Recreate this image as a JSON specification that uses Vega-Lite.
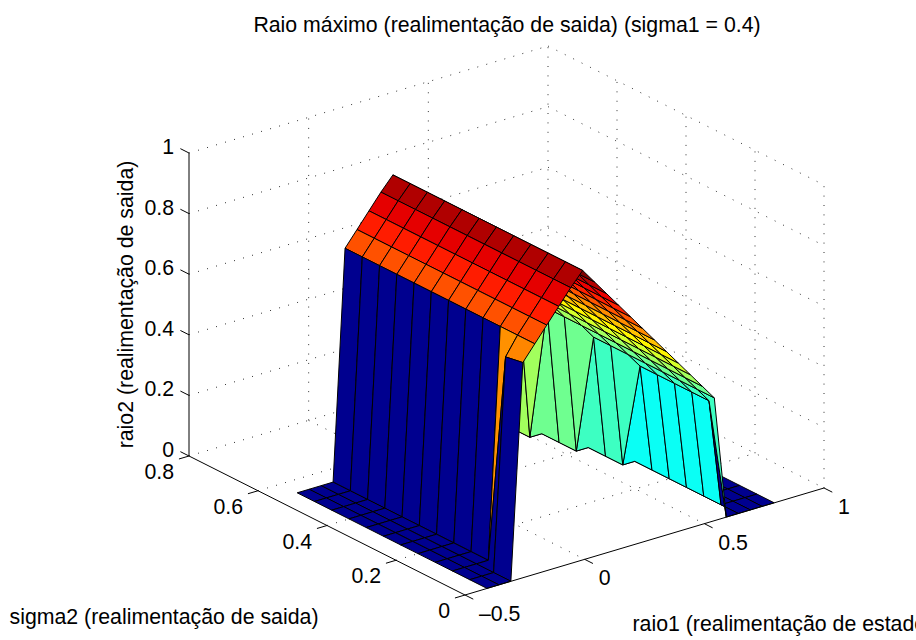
{"$schema":"https://vega.github.io/schema/vega-lite/v6.json","width":916,"height":640,"padding":0,"autosize":{"type":"none"},"background":"white","config":{"view":{"stroke":null},"font":"Liberation Sans"},
"title":{"text":"Raio máximo (realimentação de saida) (sigma1 = 0.4)","font":"Liberation Sans","fontSize":21.3,"fontWeight":"normal","anchor":"middle","dx":49,"dy":36,"offset":0,"color":"black"},
"datasets":{
"grade":[
{"r":[-0.5,1],"s":[0.8,0.8],"z":[0,0]},{"r":[-0.5,1],"s":[0.8,0.8],"z":[0.2,0.2]},{"r":[-0.5,1],"s":[0.8,0.8],"z":[0.4,0.4]},{"r":[-0.5,1],"s":[0.8,0.8],"z":[0.6,0.6]},{"r":[-0.5,1],"s":[0.8,0.8],"z":[0.8,0.8]},{"r":[-0.5,1],"s":[0.8,0.8],"z":[1,1]},
{"r":[1,1],"s":[0.8,0],"z":[0,0]},{"r":[1,1],"s":[0.8,0],"z":[0.2,0.2]},{"r":[1,1],"s":[0.8,0],"z":[0.4,0.4]},{"r":[1,1],"s":[0.8,0],"z":[0.6,0.6]},{"r":[1,1],"s":[0.8,0],"z":[0.8,0.8]},{"r":[1,1],"s":[0.8,0],"z":[1,1]},
{"r":[0,0],"s":[0.8,0.8],"z":[0,1]},{"r":[0.5,0.5],"s":[0.8,0.8],"z":[0,1]},{"r":[1,1],"s":[0.8,0.8],"z":[0,1]},
{"r":[1,1],"s":[0,0],"z":[0,1]},{"r":[1,1],"s":[0.2,0.2],"z":[0,1]},{"r":[1,1],"s":[0.4,0.4],"z":[0,1]},{"r":[1,1],"s":[0.6,0.6],"z":[0,1]},
{"r":[0,0],"s":[0,0.8],"z":[0,0]},{"r":[0.5,0.5],"s":[0,0.8],"z":[0,0]},
{"r":[-0.5,1],"s":[0.2,0.2],"z":[0,0]},{"r":[-0.5,1],"s":[0.4,0.4],"z":[0,0]},{"r":[-0.5,1],"s":[0.6,0.6],"z":[0,0]}],
"eixos":[
{"r":[-0.5,-0.5],"s":[0.8,0.8],"z":[0,1]},{"r":[-0.5,-0.5],"s":[0,0.8],"z":[0,0]},{"r":[-0.5,1],"s":[0,0],"z":[0,0]},
{"r":[-0.5,-0.5],"s":[0.8,0.825],"z":[0,0]},{"r":[-0.5,-0.5],"s":[0.8,0.825],"z":[0.2,0.2]},{"r":[-0.5,-0.5],"s":[0.8,0.825],"z":[0.4,0.4]},{"r":[-0.5,-0.5],"s":[0.8,0.825],"z":[0.6,0.6]},{"r":[-0.5,-0.5],"s":[0.8,0.825],"z":[0.8,0.8]},{"r":[-0.5,-0.5],"s":[0.8,0.825],"z":[1,1]},
{"r":[-0.5,-0.542],"s":[0,0],"z":[0,0]},{"r":[-0.5,-0.542],"s":[0.2,0.2],"z":[0,0]},{"r":[-0.5,-0.542],"s":[0.4,0.4],"z":[0,0]},{"r":[-0.5,-0.542],"s":[0.6,0.6],"z":[0,0]},{"r":[-0.5,-0.542],"s":[0.8,0.8],"z":[0,0]},
{"r":[-0.5,-0.5],"s":[0,-0.024],"z":[0,0]},{"r":[0,0],"s":[0,-0.024],"z":[0,0]},{"r":[0.5,0.5],"s":[0,-0.024],"z":[0,0]},{"r":[1,1],"s":[0,-0.024],"z":[0,0]}],
"celas":[
{"r":0.75,"s":0.5,"z":[0,0,0,0]},{"r":0.75,"s":0.45,"z":[0,0,0,0]},{"r":0.75,"s":0.4,"z":[0,0,0,0]},{"r":0.75,"s":0.35,"z":[0,0,0,0]},{"r":0.75,"s":0.3,"z":[0,0,0,0]},{"r":0.75,"s":0.25,"z":[0,0,0,0]},{"r":0.75,"s":0.2,"z":[0,0,0,0]},{"r":0.75,"s":0.15,"z":[0,0,0,0]},{"r":0.75,"s":0.1,"z":[0,0,0,0]},{"r":0.75,"s":0.05,"z":[0,0,0,0]},{"r":0.75,"s":0,"z":[0,0,0,0]},
{"r":0.7,"s":0.5,"z":[0,0,0,0]},{"r":0.7,"s":0.45,"z":[0,0,0,0]},{"r":0.7,"s":0.4,"z":[0,0,0,0]},{"r":0.7,"s":0.35,"z":[0,0,0,0]},{"r":0.7,"s":0.3,"z":[0,0,0,0]},{"r":0.7,"s":0.25,"z":[0,0,0,0]},{"r":0.7,"s":0.2,"z":[0,0,0,0]},{"r":0.7,"s":0.15,"z":[0,0,0,0]},{"r":0.7,"s":0.1,"z":[0,0,0,0]},{"r":0.7,"s":0.05,"z":[0,0,0,0]},{"r":0.7,"s":0,"z":[0,0,0,0]},
{"r":0.65,"s":0.5,"z":[0,0,0,0]},{"r":0.65,"s":0.45,"z":[0,0,0,0]},{"r":0.65,"s":0.4,"z":[0,0,0,0]},{"r":0.65,"s":0.35,"z":[0,0,0,0]},{"r":0.65,"s":0.3,"z":[0,0,0,0]},{"r":0.65,"s":0.25,"z":[0,0,0,0]},{"r":0.65,"s":0.2,"z":[0,0,0,0]},{"r":0.65,"s":0.15,"z":[0,0,0,0]},{"r":0.65,"s":0.1,"z":[0,0,0,0]},{"r":0.65,"s":0.05,"z":[0,0,0,0]},{"r":0.65,"s":0,"z":[0,0,0,0]},
{"r":0.6,"s":0.5,"z":[0,0,0,0]},{"r":0.6,"s":0.45,"z":[0,0,0,0]},{"r":0.6,"s":0.4,"z":[0,0,0,0]},{"r":0.6,"s":0.35,"z":[0,0,0,0]},{"r":0.6,"s":0.3,"z":[0,0,0,0]},{"r":0.6,"s":0.25,"z":[0.355,0,0,0]},{"r":0.6,"s":0.2,"z":[0.355,0,0,0.355]},{"r":0.6,"s":0.15,"z":[0.355,0,0,0.355]},{"r":0.6,"s":0.1,"z":[0.355,0,0,0.355]},{"r":0.6,"s":0.05,"z":[0.355,0,0,0.355]},{"r":0.6,"s":0,"z":[0,0,0,0.355]},
{"r":0.55,"s":0.5,"z":[0,0,0,0]},{"r":0.55,"s":0.45,"z":[0,0,0,0]},{"r":0.55,"s":0.4,"z":[0,0,0,0]},{"r":0.55,"s":0.35,"z":[0.405,0,0,0]},{"r":0.55,"s":0.3,"z":[0.405,0,0,0.405]},{"r":0.55,"s":0.25,"z":[0.405,0.355,0,0.405]},{"r":0.55,"s":0.2,"z":[0.405,0.355,0.355,0.405]},{"r":0.55,"s":0.15,"z":[0.405,0.355,0.355,0.405]},{"r":0.55,"s":0.1,"z":[0.405,0.355,0.355,0.405]},{"r":0.55,"s":0.05,"z":[0.405,0.355,0.355,0.405]},{"r":0.55,"s":0,"z":[0.405,0,0.355,0.405]},
{"r":0.5,"s":0.5,"z":[0,0,0,0]},{"r":0.5,"s":0.45,"z":[0.455,0,0,0]},{"r":0.5,"s":0.4,"z":[0.455,0,0,0.455]},{"r":0.5,"s":0.35,"z":[0.455,0.405,0,0.455]},{"r":0.5,"s":0.3,"z":[0.455,0.405,0.405,0.455]},{"r":0.5,"s":0.25,"z":[0.455,0.405,0.405,0.455]},{"r":0.5,"s":0.2,"z":[0.455,0.405,0.405,0.455]},{"r":0.5,"s":0.15,"z":[0.455,0.405,0.405,0.455]},{"r":0.5,"s":0.1,"z":[0.455,0.405,0.405,0.455]},{"r":0.5,"s":0.05,"z":[0.455,0.405,0.405,0.455]},{"r":0.5,"s":0,"z":[0.455,0.405,0.405,0.455]},
{"r":0.45,"s":0.5,"z":[0.505,0,0,0.505]},{"r":0.45,"s":0.45,"z":[0.505,0.455,0,0.505]},{"r":0.45,"s":0.4,"z":[0.505,0.455,0.455,0.505]},{"r":0.45,"s":0.35,"z":[0.505,0.455,0.455,0.505]},{"r":0.45,"s":0.3,"z":[0.505,0.455,0.455,0.505]},{"r":0.45,"s":0.25,"z":[0.505,0.455,0.455,0.505]},{"r":0.45,"s":0.2,"z":[0.505,0.455,0.455,0.505]},{"r":0.45,"s":0.15,"z":[0.505,0.455,0.455,0.505]},{"r":0.45,"s":0.1,"z":[0.505,0.455,0.455,0.505]},{"r":0.45,"s":0.05,"z":[0.505,0.455,0.455,0.505]},{"r":0.45,"s":0,"z":[0.505,0.455,0.455,0.505]},
{"r":0.4,"s":0.5,"z":[0.555,0.505,0.505,0.555]},{"r":0.4,"s":0.45,"z":[0.555,0.505,0.505,0.555]},{"r":0.4,"s":0.4,"z":[0.555,0.505,0.505,0.555]},{"r":0.4,"s":0.35,"z":[0.555,0.505,0.505,0.555]},{"r":0.4,"s":0.3,"z":[0.555,0.505,0.505,0.555]},{"r":0.4,"s":0.25,"z":[0.555,0.505,0.505,0.555]},{"r":0.4,"s":0.2,"z":[0.555,0.505,0.505,0.555]},{"r":0.4,"s":0.15,"z":[0.555,0.505,0.505,0.555]},{"r":0.4,"s":0.1,"z":[0.555,0.505,0.505,0.555]},{"r":0.4,"s":0.05,"z":[0.555,0.505,0.505,0.555]},{"r":0.4,"s":0,"z":[0.555,0.505,0.505,0.555]},
{"r":0.35,"s":0.5,"z":[0.605,0.555,0.555,0.605]},{"r":0.35,"s":0.45,"z":[0.605,0.555,0.555,0.605]},{"r":0.35,"s":0.4,"z":[0.605,0.555,0.555,0.605]},{"r":0.35,"s":0.35,"z":[0.605,0.555,0.555,0.605]},{"r":0.35,"s":0.3,"z":[0.605,0.555,0.555,0.605]},{"r":0.35,"s":0.25,"z":[0.605,0.555,0.555,0.605]},{"r":0.35,"s":0.2,"z":[0.605,0.555,0.555,0.605]},{"r":0.35,"s":0.15,"z":[0.605,0.555,0.555,0.605]},{"r":0.35,"s":0.1,"z":[0.605,0.555,0.555,0.605]},{"r":0.35,"s":0.05,"z":[0.605,0.555,0.555,0.605]},{"r":0.35,"s":0,"z":[0.605,0.555,0.555,0.605]},
{"r":0.3,"s":0.5,"z":[0.655,0.605,0.605,0.655]},{"r":0.3,"s":0.45,"z":[0.655,0.605,0.605,0.655]},{"r":0.3,"s":0.4,"z":[0.655,0.605,0.605,0.655]},{"r":0.3,"s":0.35,"z":[0.655,0.605,0.605,0.655]},{"r":0.3,"s":0.3,"z":[0.655,0.605,0.605,0.655]},{"r":0.3,"s":0.25,"z":[0.655,0.605,0.605,0.655]},{"r":0.3,"s":0.2,"z":[0.655,0.605,0.605,0.655]},{"r":0.3,"s":0.15,"z":[0.655,0.605,0.605,0.655]},{"r":0.3,"s":0.1,"z":[0.655,0.605,0.605,0.655]},{"r":0.3,"s":0.05,"z":[0.655,0.605,0.605,0.655]},{"r":0.3,"s":0,"z":[0.655,0.605,0.605,0.655]},
{"r":0.25,"s":0.5,"z":[0.705,0.655,0.655,0.705]},{"r":0.25,"s":0.45,"z":[0.705,0.655,0.655,0.705]},{"r":0.25,"s":0.4,"z":[0.705,0.655,0.655,0.705]},{"r":0.25,"s":0.35,"z":[0.705,0.655,0.655,0.705]},{"r":0.25,"s":0.3,"z":[0.705,0.655,0.655,0.705]},{"r":0.25,"s":0.25,"z":[0.705,0.655,0.655,0.705]},{"r":0.25,"s":0.2,"z":[0.705,0.655,0.655,0.705]},{"r":0.25,"s":0.15,"z":[0.705,0.655,0.655,0.705]},{"r":0.25,"s":0.1,"z":[0.705,0.655,0.655,0.705]},{"r":0.25,"s":0.05,"z":[0.705,0.655,0.655,0.705]},{"r":0.25,"s":0,"z":[0.705,0.655,0.655,0.705]},
{"r":0.2,"s":0.5,"z":[0.755,0.705,0.705,0.755]},{"r":0.2,"s":0.45,"z":[0.755,0.705,0.705,0.755]},{"r":0.2,"s":0.4,"z":[0.755,0.705,0.705,0.755]},{"r":0.2,"s":0.35,"z":[0.755,0.705,0.705,0.755]},{"r":0.2,"s":0.3,"z":[0.755,0.705,0.705,0.755]},{"r":0.2,"s":0.25,"z":[0.755,0.705,0.705,0.755]},{"r":0.2,"s":0.2,"z":[0.755,0.705,0.705,0.755]},{"r":0.2,"s":0.15,"z":[0.755,0.705,0.705,0.755]},{"r":0.2,"s":0.1,"z":[0.755,0.705,0.705,0.755]},{"r":0.2,"s":0.05,"z":[0.755,0.705,0.705,0.755]},{"r":0.2,"s":0,"z":[0.755,0.705,0.705,0.755]},
{"r":0.15,"s":0.5,"z":[0.805,0.755,0.755,0.805]},{"r":0.15,"s":0.45,"z":[0.805,0.755,0.755,0.805]},{"r":0.15,"s":0.4,"z":[0.805,0.755,0.755,0.805]},{"r":0.15,"s":0.35,"z":[0.805,0.755,0.755,0.805]},{"r":0.15,"s":0.3,"z":[0.805,0.755,0.755,0.805]},{"r":0.15,"s":0.25,"z":[0.805,0.755,0.755,0.805]},{"r":0.15,"s":0.2,"z":[0.805,0.755,0.755,0.805]},{"r":0.15,"s":0.15,"z":[0.805,0.755,0.755,0.805]},{"r":0.15,"s":0.1,"z":[0.805,0.755,0.755,0.805]},{"r":0.15,"s":0.05,"z":[0.805,0.755,0.755,0.805]},{"r":0.15,"s":0,"z":[0.805,0.755,0.755,0.805]},
{"r":0.1,"s":0.5,"z":[0.855,0.805,0.805,0.855]},{"r":0.1,"s":0.45,"z":[0.855,0.805,0.805,0.855]},{"r":0.1,"s":0.4,"z":[0.855,0.805,0.805,0.855]},{"r":0.1,"s":0.35,"z":[0.855,0.805,0.805,0.855]},{"r":0.1,"s":0.3,"z":[0.855,0.805,0.805,0.855]},{"r":0.1,"s":0.25,"z":[0.855,0.805,0.805,0.855]},{"r":0.1,"s":0.2,"z":[0.855,0.805,0.805,0.855]},{"r":0.1,"s":0.15,"z":[0.855,0.805,0.805,0.855]},{"r":0.1,"s":0.1,"z":[0.855,0.805,0.805,0.855]},{"r":0.1,"s":0.05,"z":[0.855,0.805,0.805,0.855]},{"r":0.1,"s":0,"z":[0.855,0.805,0.805,0.855]},
{"r":0.05,"s":0.5,"z":[0.905,0.855,0.855,0.905]},{"r":0.05,"s":0.45,"z":[0.905,0.855,0.855,0.905]},{"r":0.05,"s":0.4,"z":[0.905,0.855,0.855,0.905]},{"r":0.05,"s":0.35,"z":[0.905,0.855,0.855,0.905]},{"r":0.05,"s":0.3,"z":[0.905,0.855,0.855,0.905]},{"r":0.05,"s":0.25,"z":[0.905,0.855,0.855,0.905]},{"r":0.05,"s":0.2,"z":[0.905,0.855,0.855,0.905]},{"r":0.05,"s":0.15,"z":[0.905,0.855,0.855,0.905]},{"r":0.05,"s":0.1,"z":[0.905,0.855,0.855,0.905]},{"r":0.05,"s":0.05,"z":[0.905,0.855,0.855,0.905]},{"r":0.05,"s":0,"z":[0.905,0.855,0.855,0.905]},
{"r":0,"s":0.5,"z":[0.955,0.905,0.905,0.955]},{"r":0,"s":0.45,"z":[0.955,0.905,0.905,0.955]},{"r":0,"s":0.4,"z":[0.955,0.905,0.905,0.955]},{"r":0,"s":0.35,"z":[0.955,0.905,0.905,0.955]},{"r":0,"s":0.3,"z":[0.955,0.905,0.905,0.955]},{"r":0,"s":0.25,"z":[0.955,0.905,0.905,0.955]},{"r":0,"s":0.2,"z":[0.955,0.905,0.905,0.955]},{"r":0,"s":0.15,"z":[0.955,0.905,0.905,0.955]},{"r":0,"s":0.1,"z":[0.955,0.905,0.905,0.955]},{"r":0,"s":0.05,"z":[0.955,0.905,0.905,0.955]},{"r":0,"s":0,"z":[0.955,0.905,0.905,0.955]},
{"r":-0.05,"s":0.5,"z":[0.91,0.955,0.955,0.91]},{"r":-0.05,"s":0.45,"z":[0.91,0.955,0.955,0.91]},{"r":-0.05,"s":0.4,"z":[0.91,0.955,0.955,0.91]},{"r":-0.05,"s":0.35,"z":[0.91,0.955,0.955,0.91]},{"r":-0.05,"s":0.3,"z":[0.91,0.955,0.955,0.91]},{"r":-0.05,"s":0.25,"z":[0.91,0.955,0.955,0.91]},{"r":-0.05,"s":0.2,"z":[0.91,0.955,0.955,0.91]},{"r":-0.05,"s":0.15,"z":[0.91,0.955,0.955,0.91]},{"r":-0.05,"s":0.1,"z":[0.91,0.955,0.955,0.91]},{"r":-0.05,"s":0.05,"z":[0.91,0.955,0.955,0.91]},{"r":-0.05,"s":0,"z":[0.91,0.955,0.955,0.91]},
{"r":-0.1,"s":0.5,"z":[0.86,0.91,0.91,0.86]},{"r":-0.1,"s":0.45,"z":[0.86,0.91,0.91,0.86]},{"r":-0.1,"s":0.4,"z":[0.86,0.91,0.91,0.86]},{"r":-0.1,"s":0.35,"z":[0.86,0.91,0.91,0.86]},{"r":-0.1,"s":0.3,"z":[0.86,0.91,0.91,0.86]},{"r":-0.1,"s":0.25,"z":[0.86,0.91,0.91,0.86]},{"r":-0.1,"s":0.2,"z":[0.86,0.91,0.91,0.86]},{"r":-0.1,"s":0.15,"z":[0.86,0.91,0.91,0.86]},{"r":-0.1,"s":0.1,"z":[0.86,0.91,0.91,0.86]},{"r":-0.1,"s":0.05,"z":[0.86,0.91,0.91,0.86]},{"r":-0.1,"s":0,"z":[0.86,0.91,0.91,0.86]},
{"r":-0.15,"s":0.5,"z":[0.81,0.86,0.86,0.81]},{"r":-0.15,"s":0.45,"z":[0.81,0.86,0.86,0.81]},{"r":-0.15,"s":0.4,"z":[0.81,0.86,0.86,0.81]},{"r":-0.15,"s":0.35,"z":[0.81,0.86,0.86,0.81]},{"r":-0.15,"s":0.3,"z":[0.81,0.86,0.86,0.81]},{"r":-0.15,"s":0.25,"z":[0.81,0.86,0.86,0.81]},{"r":-0.15,"s":0.2,"z":[0.81,0.86,0.86,0.81]},{"r":-0.15,"s":0.15,"z":[0.81,0.86,0.86,0.81]},{"r":-0.15,"s":0.1,"z":[0.81,0.86,0.86,0.81]},{"r":-0.15,"s":0.05,"z":[0.81,0.86,0.86,0.81]},{"r":-0.15,"s":0,"z":[0.81,0.86,0.86,0.81]},
{"r":-0.2,"s":0.5,"z":[0.76,0.81,0.81,0.76]},{"r":-0.2,"s":0.45,"z":[0.76,0.81,0.81,0.76]},{"r":-0.2,"s":0.4,"z":[0.76,0.81,0.81,0.76]},{"r":-0.2,"s":0.35,"z":[0.76,0.81,0.81,0.76]},{"r":-0.2,"s":0.3,"z":[0.76,0.81,0.81,0.76]},{"r":-0.2,"s":0.25,"z":[0.76,0.81,0.81,0.76]},{"r":-0.2,"s":0.2,"z":[0.76,0.81,0.81,0.76]},{"r":-0.2,"s":0.15,"z":[0.76,0.81,0.81,0.76]},{"r":-0.2,"s":0.1,"z":[0.76,0.81,0.81,0.76]},{"r":-0.2,"s":0.05,"z":[0.76,0.81,0.81,0.76]},{"r":-0.2,"s":0,"z":[0.76,0.81,0.81,0.76]},
{"r":-0.25,"s":0.5,"z":[0,0.76,0.76,0]},{"r":-0.25,"s":0.45,"z":[0,0.76,0.76,0]},{"r":-0.25,"s":0.4,"z":[0,0.76,0.76,0]},{"r":-0.25,"s":0.35,"z":[0,0.76,0.76,0]},{"r":-0.25,"s":0.3,"z":[0,0.76,0.76,0]},{"r":-0.25,"s":0.25,"z":[0,0.76,0.76,0]},{"r":-0.25,"s":0.2,"z":[0,0.76,0.76,0]},{"r":-0.25,"s":0.15,"z":[0,0.76,0.76,0]},{"r":-0.25,"s":0.1,"z":[0,0.76,0.76,0]},{"r":-0.25,"s":0.05,"z":[0.7,0.76,0.76,0]},{"r":-0.25,"s":0,"z":[0.71,0.76,0.76,0.7]},
{"r":-0.3,"s":0.5,"z":[0,0,0,0]},{"r":-0.3,"s":0.45,"z":[0,0,0,0]},{"r":-0.3,"s":0.4,"z":[0,0,0,0]},{"r":-0.3,"s":0.35,"z":[0,0,0,0]},{"r":-0.3,"s":0.3,"z":[0,0,0,0]},{"r":-0.3,"s":0.25,"z":[0,0,0,0]},{"r":-0.3,"s":0.2,"z":[0,0,0,0]},{"r":-0.3,"s":0.15,"z":[0,0,0,0]},{"r":-0.3,"s":0.1,"z":[0,0,0,0]},{"r":-0.3,"s":0.05,"z":[0,0.7,0,0]},{"r":-0.3,"s":0,"z":[0,0.71,0.7,0]},
{"r":-0.35,"s":0.5,"z":[0,0,0,0]},{"r":-0.35,"s":0.45,"z":[0,0,0,0]},{"r":-0.35,"s":0.4,"z":[0,0,0,0]},{"r":-0.35,"s":0.35,"z":[0,0,0,0]},{"r":-0.35,"s":0.3,"z":[0,0,0,0]},{"r":-0.35,"s":0.25,"z":[0,0,0,0]},{"r":-0.35,"s":0.2,"z":[0,0,0,0]},{"r":-0.35,"s":0.15,"z":[0,0,0,0]},{"r":-0.35,"s":0.1,"z":[0,0,0,0]},{"r":-0.35,"s":0.05,"z":[0,0,0,0]},{"r":-0.35,"s":0,"z":[0,0,0,0]},
{"r":-0.4,"s":0.5,"z":[0,0,0,0]},{"r":-0.4,"s":0.45,"z":[0,0,0,0]},{"r":-0.4,"s":0.4,"z":[0,0,0,0]},{"r":-0.4,"s":0.35,"z":[0,0,0,0]},{"r":-0.4,"s":0.3,"z":[0,0,0,0]},{"r":-0.4,"s":0.25,"z":[0,0,0,0]},{"r":-0.4,"s":0.2,"z":[0,0,0,0]},{"r":-0.4,"s":0.15,"z":[0,0,0,0]},{"r":-0.4,"s":0.1,"z":[0,0,0,0]},{"r":-0.4,"s":0.05,"z":[0,0,0,0]},{"r":-0.4,"s":0,"z":[0,0,0,0]}]
},
"encoding":{
"x":{"field":"px","type":"quantitative","axis":null,"scale":{"domain":[0,916],"nice":false,"zero":false}},
"y":{"field":"py","type":"quantitative","axis":null,"scale":{"domain":[640,0],"nice":false,"zero":false}}},
"layer":[
{"data":{"name":"grade"},"transform":[{"window":[{"op":"row_number","as":"linha"}]},{"flatten":["r","s","z"]},{"calculate":"465+(datum.r+0.5)/1.5*359-datum.s/0.8*276","as":"px"},{"calculate":"595-(datum.r+0.5)/1.5*107-datum.s/0.8*139-datum.z*303","as":"py"}],
"mark":{"type":"line","stroke":"#333333","strokeWidth":1,"strokeDash":[1,8.4],"clip":false},"encoding":{"detail":{"field":"linha"}}},
{"data":{"name":"celas"},"transform":[{"window":[{"op":"row_number","as":"cela"}]},{"calculate":"datum.z[0]","as":"cor"},{"calculate":"[datum.z[0],datum.z[1],datum.z[2],datum.z[3],datum.z[0]]","as":"zv"},{"calculate":"[datum.r,datum.r+0.05,datum.r+0.05,datum.r,datum.r]","as":"rv"},{"calculate":"[datum.s,datum.s,datum.s+0.05,datum.s+0.05,datum.s]","as":"sv"},{"calculate":"[0,1,2,3,4]","as":"k"},{"flatten":["zv","rv","sv","k"]},{"calculate":"463+(datum.rv+0.5)/1.5*359-datum.sv/0.8*276","as":"px"},{"calculate":"595.5-(datum.rv+0.5)/1.5*107-datum.sv/0.8*139-datum.zv*303","as":"py"}],
"mark":{"type":"line","stroke":"black","strokeWidth":1,"strokeJoin":"round"},
"encoding":{"detail":{"field":"cela"},"order":{"field":"k"},"fill":{"field":"cor","type":"quantitative","legend":null,"scale":{"domain":[0,0.119,0.345,0.597,0.836,0.955],"range":["#00008f","#0000ff","#00ffff","#ffff00","#ff0000","#800000"],"interpolate":"rgb"}}}},
{"data":{"name":"eixos"},"transform":[{"window":[{"op":"row_number","as":"linha"}]},{"flatten":["r","s","z"]},{"calculate":"465+(datum.r+0.5)/1.5*359-datum.s/0.8*276","as":"px"},{"calculate":"595-(datum.r+0.5)/1.5*107-datum.s/0.8*139-datum.z*303","as":"py"}],
"mark":{"type":"line","stroke":"black","strokeWidth":1},"encoding":{"detail":{"field":"linha"}}},
{"data":{"values":[{"t":"0","z":0},{"t":"0.2","z":0.2},{"t":"0.4","z":0.4},{"t":"0.6","z":0.6},{"t":"0.8","z":0.8},{"t":"1","z":1}]},"transform":[{"calculate":"189","as":"px"},{"calculate":"456-datum.z*303","as":"py"}],
"mark":{"type":"text","font":"Liberation Sans","fontSize":21.3,"align":"right","baseline":"middle","dx":-15,"dy":-5},"encoding":{"text":{"field":"t"}}},
{"data":{"values":[{"t":"0","s":0},{"t":"0.2","s":0.2},{"t":"0.4","s":0.4},{"t":"0.6","s":0.6},{"t":"0.8","s":0.8}]},"transform":[{"calculate":"465-datum.s/0.8*276","as":"px"},{"calculate":"595-datum.s/0.8*139","as":"py"}],
"mark":{"type":"text","font":"Liberation Sans","fontSize":21.3,"align":"right","baseline":"middle","dx":-15,"dy":17},"encoding":{"text":{"field":"t"}}},
{"data":{"values":[{"t":"–0.5","r":-0.5},{"t":"0","r":0},{"t":"0.5","r":0.5},{"t":"1","r":1}]},"transform":[{"calculate":"465+(datum.r+0.5)/1.5*359","as":"px"},{"calculate":"595-(datum.r+0.5)/1.5*107","as":"py"}],
"mark":{"type":"text","font":"Liberation Sans","fontSize":21.3,"align":"left","baseline":"middle","dx":14,"dy":20},"encoding":{"text":{"field":"t"}}},
{"data":{"values":[{"t":"raio2 (realimentação de saida)","z":0.5}]},"transform":[{"calculate":"189","as":"px"},{"calculate":"456-datum.z*303","as":"py"}],
"mark":{"type":"text","font":"Liberation Sans","fontSize":21.3,"angle":270,"align":"center","baseline":"middle","dx":0,"dy":-62},"encoding":{"text":{"field":"t"}}},
{"data":{"values":[{"t":"sigma2 (realimentação de saida)","s":0.4}]},"transform":[{"calculate":"465-datum.s/0.8*276","as":"px"},{"calculate":"595-datum.s/0.8*139","as":"py"}],
"mark":{"type":"text","font":"Liberation Sans","fontSize":21.3,"align":"center","baseline":"middle","dx":-163,"dy":92},"encoding":{"text":{"field":"t"}}},
{"data":{"values":[{"t":"raio1 (realimentação de estado)","r":0.25}]},"transform":[{"calculate":"465+(datum.r+0.5)/1.5*359","as":"px"},{"calculate":"595-(datum.r+0.5)/1.5*107","as":"py"}],
"mark":{"type":"text","font":"Liberation Sans","fontSize":21.3,"align":"left","baseline":"middle","dx":-12,"dy":83},"encoding":{"text":{"field":"t"}}}
]}
